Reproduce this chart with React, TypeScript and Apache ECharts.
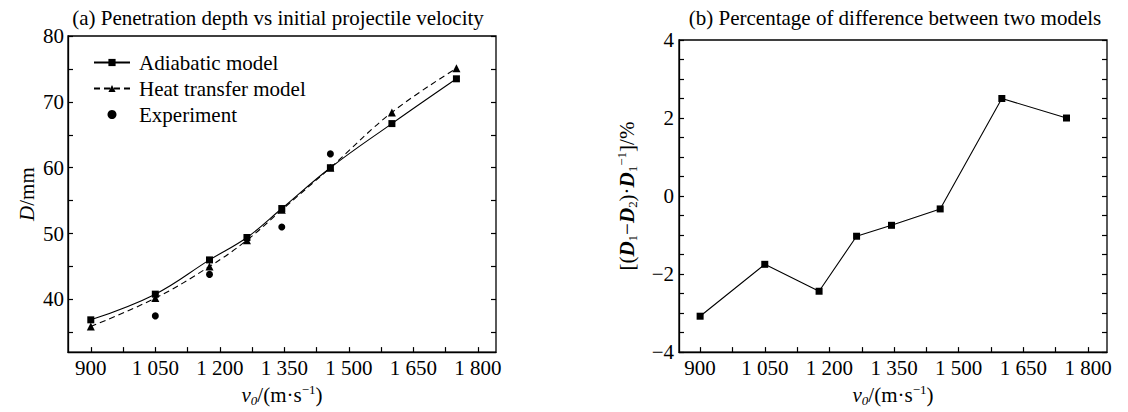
import React, { useEffect, useRef } from "react";
import * as echarts from "echarts";

const xValues = [900, 1050, 1176, 1263, 1344, 1457, 1600, 1750];
const adiabatic = [36.9, 40.8, 46.0, 49.4, 53.8, 60.0, 66.7, 73.5];
const heatTransfer = [35.9, 40.2, 45.0, 49.0, 53.6, 60.0, 68.4, 75.1];
const expX = [1050, 1176, 1344, 1457];
const experiment = [37.5, 43.8, 51.0, 62.1];
const diffValues = [-3.08, -1.75, -2.44, -1.03, -0.75, -0.33, 2.5, 2.0];

const xLabelValues = [900, 1050, 1200, 1350, 1500, 1650, 1800];
const xTickValues = [900, 975, 1050, 1125, 1200, 1275, 1350, 1425, 1500, 1575, 1650, 1725, 1800];
const yLeftLabels = [40, 50, 60, 70, 80];
const yLeftTicks = [35, 40, 45, 50, 55, 60, 65, 70, 75, 80];
const yRightLabels = [-4, -2, 0, 2, 4];
const yRightTicks = [-4, -3.5, -3, -2.5, -2, -1.5, -1, -0.5, 0, 0.5, 1, 1.5, 2, 2.5, 3, 3.5, 4];

const FONT = "'Liberation Serif', 'Times New Roman', serif";
const FS = 21;
const SMALL = 13;

const fmtX = (v: number) => {
  if (v >= 1000) {
    const s = String(v);
    return s.slice(0, 1) + " " + s.slice(1);
  }
  return String(v);
};
const fmtY = (v: number) => (v < 0 ? "\u2212" + Math.abs(v) : String(v));

const axisLineStyle = { color: "#000", width: 1.3 };

function xAxisCfg(gridIndex: number, min: number, max: number) {
  return {
    type: "value",
    gridIndex,
    min,
    max,
    position: "bottom",
    axisLine: { show: true, onZero: false, lineStyle: axisLineStyle },
    axisTick: { show: true, inside: true, length: 5, customValues: xTickValues, lineStyle: { color: "#000", width: 1.2 } },
    axisLabel: { show: true, customValues: xLabelValues, formatter: fmtX, color: "#000", fontFamily: FONT, fontSize: FS, margin: 5 },
    splitLine: { show: false },
    name: "{i|v}{sub|0}/(m·s{sup|\u22121})",
    nameLocation: "middle",
    nameGap: 29,
    nameTextStyle: {
      color: "#000",
      fontFamily: FONT,
      fontSize: FS,
      rich: {
        i: { fontFamily: FONT, fontSize: FS, fontStyle: "italic", lineHeight: 24, color: "#000" },
        sub: { fontFamily: FONT, fontSize: SMALL, fontStyle: "italic", verticalAlign: "bottom", lineHeight: 24, color: "#000" },
        sup: { fontFamily: FONT, fontSize: SMALL, verticalAlign: "top", lineHeight: 24, color: "#000" },
      },
    },
  };
}

export default function App() {
  const ref = useRef<HTMLDivElement>(null);
  useEffect(() => {
    if (!ref.current) return;
    const chart = echarts.init(ref.current, undefined, { renderer: "svg" });
    const option: any = {
      animation: false,
      backgroundColor: "#fff",
      textStyle: { fontFamily: FONT },
      title: [
        {
          text: "(a) Penetration depth vs initial projectile velocity",
          left: 273,
          top: 2,
          textAlign: "center",
          textStyle: { fontFamily: FONT, fontSize: FS, fontWeight: "normal", color: "#000" },
        },
        {
          text: "(b) Percentage of difference between two models",
          left: 890,
          top: 2,
          textAlign: "center",
          textStyle: { fontFamily: FONT, fontSize: FS, fontWeight: "normal", color: "#000" },
        },
      ],
      legend: {
        left: 88,
        top: 47,
        orient: "vertical",
        itemWidth: 36,
        itemHeight: 9,
        itemGap: 5,
        textStyle: { fontFamily: FONT, fontSize: FS, color: "#000", padding: [0, 0, 0, 4] },
        data: ["Adiabatic model", "Heat transfer model", "Experiment"],
      },
      grid: [
        { left: 68, top: 36, width: 428, height: 321, show: true, borderColor: "#000", borderWidth: 1.3, backgroundColor: "transparent" },
        { left: 679, top: 40, width: 428, height: 318, show: true, borderColor: "#000", borderWidth: 1.3, backgroundColor: "transparent" },
      ],
      xAxis: [xAxisCfg(0, 847, 1842), xAxisCfg(1, 851, 1844)],
      yAxis: [
        {
          type: "value",
          gridIndex: 0,
          min: 32,
          max: 80,
          axisLine: { show: true, onZero: false, lineStyle: axisLineStyle },
          axisTick: { show: true, inside: true, length: 5, customValues: yLeftTicks, lineStyle: { color: "#000", width: 1.2 } },
          axisLabel: { customValues: yLeftLabels, color: "#000", fontFamily: FONT, fontSize: FS, margin: 4 },
          splitLine: { show: false },
          name: "{i|D}/mm",
          nameLocation: "middle",
          nameRotate: 90,
          nameGap: 31,
          nameTextStyle: {
            color: "#000",
            fontFamily: FONT,
            fontSize: FS,
            rich: { i: { fontFamily: FONT, fontSize: FS, fontStyle: "italic", color: "#000" } },
          },
        },
        {
          type: "value",
          gridIndex: 0,
          min: 32,
          max: 80,
          position: "right",
          axisLine: { show: false },
          axisTick: { show: true, inside: true, length: 5, customValues: yLeftTicks, lineStyle: { color: "#000", width: 1.2 } },
          axisLabel: { show: false },
          splitLine: { show: false },
        },
        {
          type: "value",
          gridIndex: 1,
          min: -4,
          max: 4,
          axisLine: { show: true, onZero: false, lineStyle: axisLineStyle },
          axisTick: { show: true, inside: true, length: 5, customValues: yRightTicks, lineStyle: { color: "#000", width: 1.2 } },
          axisLabel: { customValues: yRightLabels, formatter: fmtY, color: "#000", fontFamily: FONT, fontSize: FS, margin: 5 },
          splitLine: { show: false },
          name: "[({b|D}{sub|1}\u2212{b|D}{sub|2})·{b|D}{sub|1}{sup|\u22121}]/%",
          nameLocation: "middle",
          nameRotate: 90,
          nameGap: 40,
          nameTextStyle: {
            color: "#000",
            fontFamily: FONT,
            fontSize: FS,
            rich: {
              b: { fontFamily: FONT, fontSize: FS, fontStyle: "italic", fontWeight: "bold", lineHeight: 24, color: "#000" },
              sub: { fontFamily: FONT, fontSize: SMALL, verticalAlign: "bottom", lineHeight: 24, color: "#000" },
              sup: { fontFamily: FONT, fontSize: SMALL, verticalAlign: "top", lineHeight: 24, color: "#000" },
            },
          },
        },
        {
          type: "value",
          gridIndex: 1,
          min: -4,
          max: 4,
          position: "right",
          axisLine: { show: false },
          axisTick: { show: true, inside: true, length: 5, customValues: yRightTicks, lineStyle: { color: "#000", width: 1.2 } },
          axisLabel: { show: false },
          splitLine: { show: false },
        },
      ],
      series: [
        {
          name: "Adiabatic model",
          type: "line",
          xAxisIndex: 0,
          yAxisIndex: 0,
          smooth: 0.4,
          data: xValues.map((x, i) => [x, adiabatic[i]]),
          symbol: "rect",
          symbolSize: 7,
          itemStyle: { color: "#000" },
          lineStyle: { color: "#000", width: 1.1 },
        },
        {
          name: "Heat transfer model",
          type: "line",
          xAxisIndex: 0,
          yAxisIndex: 0,
          smooth: 0.4,
          data: xValues.map((x, i) => [x, heatTransfer[i]]),
          symbol: "triangle",
          symbolSize: 8,
          itemStyle: { color: "#000" },
          lineStyle: { color: "#000", width: 1.1, type: [6, 4] },
        },
        {
          name: "Experiment",
          type: "scatter",
          xAxisIndex: 0,
          yAxisIndex: 0,
          data: expX.map((x, i) => [x, experiment[i]]),
          symbol: "circle",
          symbolSize: 7,
          itemStyle: { color: "#000", opacity: 1 },
        },
        {
          name: "Difference",
          type: "line",
          xAxisIndex: 1,
          yAxisIndex: 2,
          data: xValues.map((x, i) => [x, diffValues[i]]),
          symbol: "rect",
          symbolSize: 7,
          itemStyle: { color: "#000" },
          lineStyle: { color: "#000", width: 1.1 },
        },
      ],
    };
    chart.setOption(option);
    return () => chart.dispose();
  }, []);
  return (
    <div
      ref={ref}
      style={{ position: "fixed", left: 0, top: 0, width: 1128, height: 412, background: "#fff" }}
    />
  );
}
